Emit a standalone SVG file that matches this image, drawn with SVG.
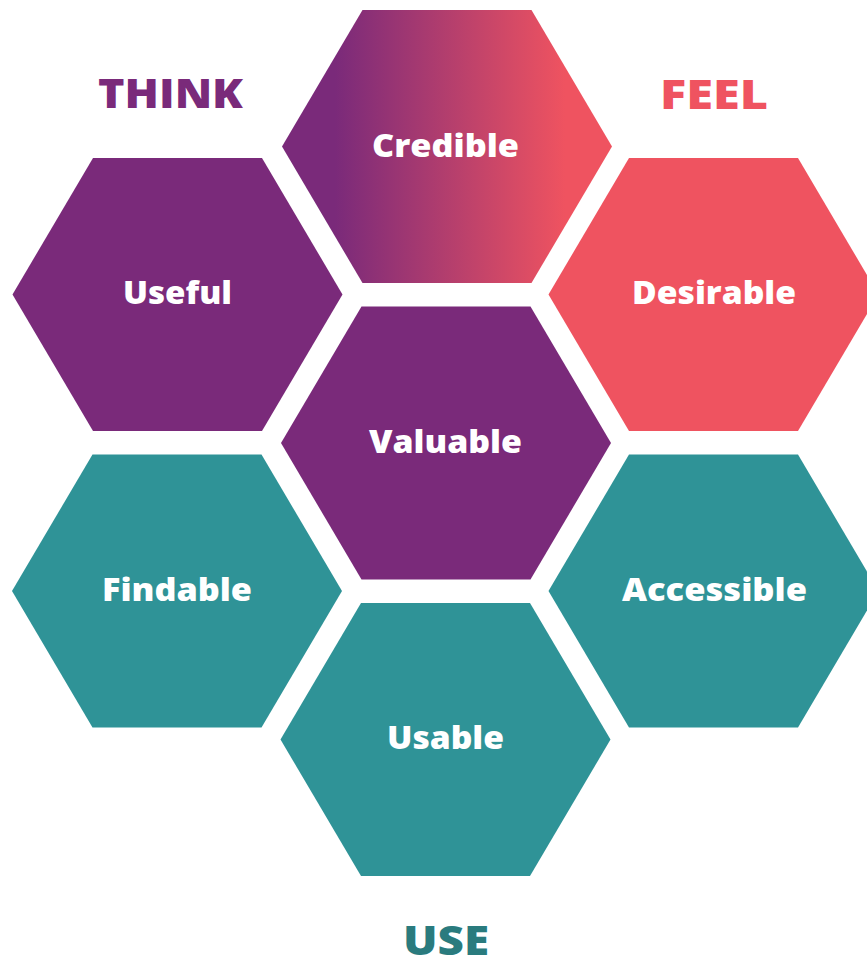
<svg xmlns="http://www.w3.org/2000/svg" width="867" height="960" viewBox="0 0 867 960">
<defs>
<linearGradient id="grad" gradientUnits="userSpaceOnUse" x1="-112" y1="0" x2="118" y2="0">
<stop offset="0" stop-color="#7a2a7a"/>
<stop offset="1" stop-color="#ef5360"/>
</linearGradient>
<polygon id="hex" points="-165,0 -84.5,-136.5 84.5,-136.5 165,0 84.5,136.5 -84.5,136.5"/>
</defs>
<style>
.lbl{font-family:"Open Sans","Noto Sans","Liberation Sans",sans-serif;font-weight:800;font-size:31px;fill:#ffffff;text-anchor:middle}
.hdr{font-family:"Open Sans","Noto Sans","Liberation Sans",sans-serif;font-weight:800;font-size:40px;text-anchor:middle}
.purple{fill:#7a2a7a}
.coral{fill:#ef5360}
.teal{fill:#2f9397}
</style>
<rect width="867" height="960" fill="#ffffff"/>
<g id="connectors"/>
<g id="think"><text class="hdr" x="170.5" y="108" fill="#7a2a7a" textLength="145" lengthAdjust="spacingAndGlyphs">THINK</text></g>
<g id="feel"><text class="hdr" x="714" y="109" fill="#ef5360" textLength="108" lengthAdjust="spacingAndGlyphs">FEEL</text></g>
<g id="use"><text class="hdr" x="446" y="955" fill="#2a7b7e" textLength="86" lengthAdjust="spacingAndGlyphs">USE</text></g>
<g id="credible"><use href="#hex" x="447" y="146.5" fill="url(#grad)"/><text class="lbl" x="445.5" y="157" textLength="147" lengthAdjust="spacingAndGlyphs">Credible</text></g>
<g id="useful"><use href="#hex" x="177.5" y="294.5" class="purple"/><text class="lbl" x="177.5" y="304" textLength="109" lengthAdjust="spacingAndGlyphs">Useful</text></g>
<g id="desirable"><use href="#hex" x="713.5" y="294.5" class="coral"/><text class="lbl" x="714" y="304" textLength="164" lengthAdjust="spacingAndGlyphs">Desirable</text></g>
<g id="valuable"><use href="#hex" x="446" y="443" class="purple"/><text class="lbl" x="445.5" y="453" textLength="153" lengthAdjust="spacingAndGlyphs">Valuable</text></g>
<g id="findable"><use href="#hex" x="177" y="591" class="teal"/><text class="lbl" x="177" y="601" textLength="150" lengthAdjust="spacingAndGlyphs">Findable</text></g>
<g id="accessible"><use href="#hex" x="713.5" y="591" class="teal"/><text class="lbl" x="714.5" y="601" textLength="185" lengthAdjust="spacingAndGlyphs">Accessible</text></g>
<g id="usable"><use href="#hex" x="445.5" y="739.5" class="teal"/><text class="lbl" x="445.5" y="749" textLength="117" lengthAdjust="spacingAndGlyphs">Usable</text></g>
</svg>
